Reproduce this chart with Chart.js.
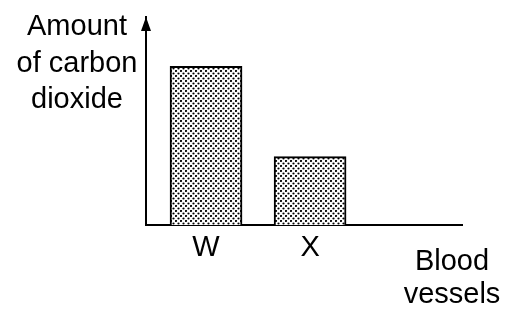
<!DOCTYPE html>
<html>
<head>
<meta charset="utf-8">
<script src="https://cdn.jsdelivr.net/npm/chart.js@4"></script>
<style>
html,body{margin:0;padding:0;background:#fff;}
#wrap{width:507px;height:309px;}
</style>
</head>
<body>
<div id="wrap"><canvas id="c" width="507" height="309"></canvas></div>
<script>
const categories = ['W', 'X'];
const amounts = [7.63, 3.29];
const yTitleLines = ['Amount', 'of carbon', 'dioxide'];
const xTitleLines = ['Blood', 'vessels'];

function makePattern() {
  const t = document.createElement('canvas');
  t.width = 5; t.height = 5;
  const g = t.getContext('2d');
  g.fillStyle = '#ffffff';
  g.fillRect(0, 0, 5, 5);
  g.fillStyle = '#000000';
  g.beginPath(); g.arc(1, 1, 1.1, 0, Math.PI * 2); g.fill();
  g.beginPath(); g.arc(3.5, 3.5, 1.1, 0, Math.PI * 2); g.fill();
  return g.createPattern(t, 'repeat');
}

const FONT = '"Liberation Sans", Arial, sans-serif';

const decor = {
  id: 'decor',
  afterDraw(chart) {
    const ctx = chart.ctx;
    const y = chart.scales.y, x = chart.scales.x;
    const ax = x.left, top = y.top;
    ctx.save();
    ctx.fillStyle = '#000';
    ctx.beginPath();
    ctx.moveTo(ax, top);
    ctx.lineTo(ax - 5, top + 14);
    ctx.lineTo(ax + 5, top + 14);
    ctx.closePath();
    ctx.fill();
    ctx.font = '29px ' + FONT;
    ctx.textAlign = 'center';
    ctx.textBaseline = 'alphabetic';
    const yb = [35, 72, 108];
    yTitleLines.forEach((s, i) => ctx.fillText(s, 77, yb[i]));
    const xb = [270, 303];
    xTitleLines.forEach((s, i) => ctx.fillText(s, 452, xb[i]));
    ctx.restore();
  }
};

const ctx = document.getElementById('c').getContext('2d');
new Chart(ctx, {
  type: 'bar',
  data: {
    datasets: [{
      data: amounts.map((v, i) => ({ x: i, y: v })),
      backgroundColor: makePattern(),
      borderColor: '#000',
      borderWidth: 2,
      borderSkipped: 'bottom',
      barThickness: 72
    }]
  },
  options: {
    responsive: false,
    animation: false,
    events: [],
    layout: { padding: { left: 138, right: 45, top: 17, bottom: 47 } },
    plugins: { legend: { display: false }, tooltip: { enabled: false }, title: { display: false } },
    scales: {
      x: {
        type: 'linear',
        offset: false,
        min: -0.577,
        max: 2.46,
        grid: { display: false },
        border: { display: true, color: '#000', width: 2 },
        afterBuildTicks: (s) => { s.ticks = categories.map((c, i) => ({ value: i })); },
        ticks: {
          color: '#000',
          font: { family: FONT, size: 29, lineHeight: 1 },
          padding: 0,
          autoSkip: false,
          maxRotation: 0,
          callback: (v) => categories[v] ?? ''
        }
      },
      y: {
        min: 0,
        max: 10,
        grid: { display: false },
        border: { display: true, color: '#000', width: 2 },
        ticks: { display: false }
      }
    }
  },
  plugins: [decor]
});
</script>
</body>
</html>
